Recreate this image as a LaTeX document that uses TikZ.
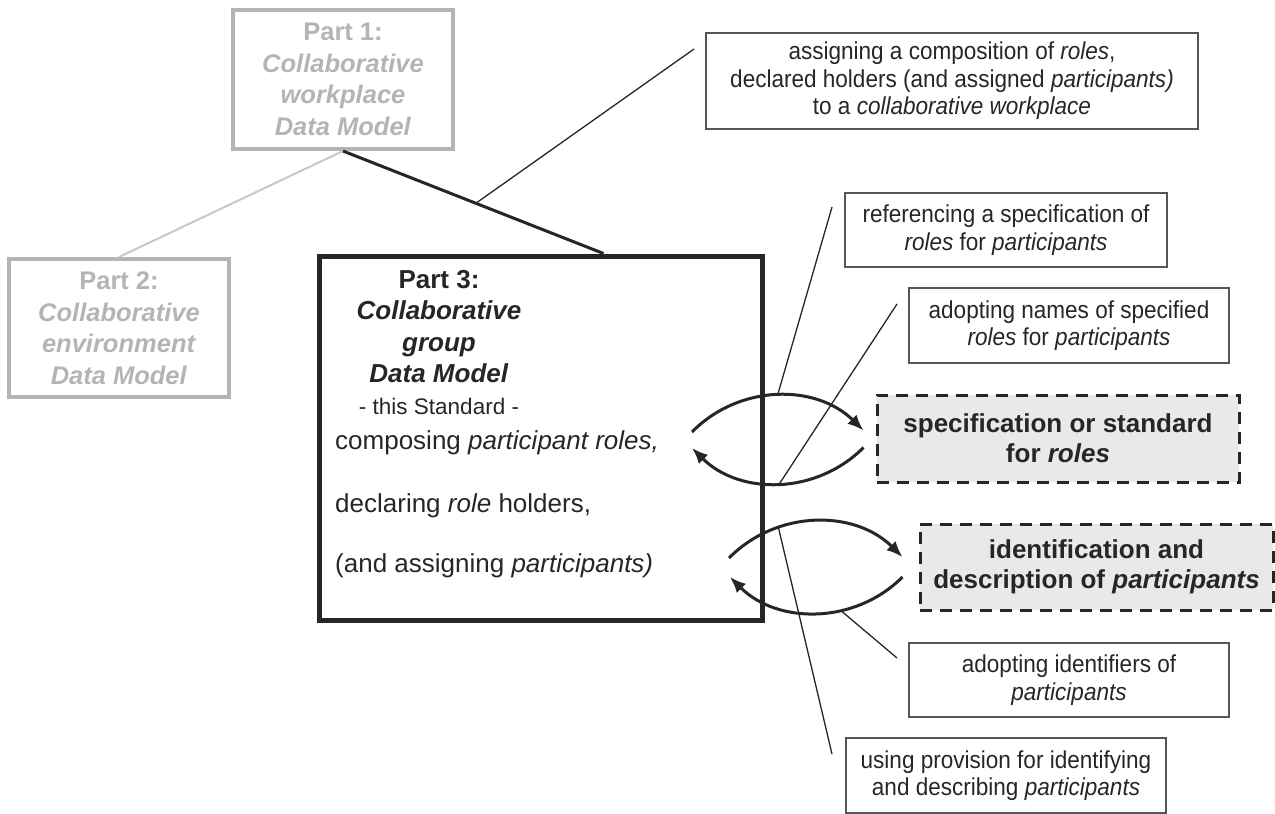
\documentclass[tikz,border=0pt]{standalone}
\usepackage{fontspec}
\setmainfont{Liberation Sans}
\newfontfamily\narrowsans[FakeStretch=0.92]{Liberation Sans}
\usetikzlibrary{arrows.meta}

\definecolor{inkgrey}{HTML}{262626}
\definecolor{boxgrey}{HTML}{555555}
\definecolor{fadegrey}{HTML}{B4B4B4}
\definecolor{fadeline}{HTML}{C8C8C8}
\definecolor{shade}{HTML}{E9E9E9}

\tikzset{
  oldpart/.style={draw=fadegrey, line width=4pt, text=fadegrey, align=center, inner sep=0pt,
    font=\fontsize{25.5}{31.5}\selectfont\bfseries, minimum width=220pt, minimum height=139pt},
  notebox/.style={draw=boxgrey, line width=2pt, text=inkgrey, align=center, inner sep=0pt,
    font=\narrowsans\fontsize{24.5}{27.5}\selectfont, minimum height=75pt},
  sourcebox/.style={draw=inkgrey, line width=3pt, dash pattern=on 12pt off 8pt, fill=shade,
    text=inkgrey, align=center, inner sep=0pt, font=\fontsize{26}{30}\selectfont\bfseries},
  bodyline/.style={text=inkgrey, inner sep=0pt, anchor=base west, font=\fontsize{26}{31}\selectfont},
  swing/.style={draw=inkgrey, line width=3pt, -{Latex[length=16pt,width=13pt]}},
  leader/.style={draw=inkgrey, line width=1.3pt}
}

\begin{document}
\begin{tikzpicture}[x=1pt,y=-1pt]
\useasboundingbox (0,0) rectangle (1275,814);

% the three parts of the standard
\node[oldpart] (p1) at (343,79.5) {Part 1:\\\textit{Collaborative}\\\textit{workplace}\\\textit{Data Model}};
\node[oldpart, minimum height=138pt] (p2) at (119,328) {Part 2:\\\textit{Collaborative}\\\textit{environment}\\\textit{Data Model}};
\node[draw=inkgrey, line width=5pt, minimum width=443pt, minimum height=364pt] (p3) at (540.5,438) {};
\node[anchor=north, align=center, text=inkgrey, inner sep=0pt, font=\fontsize{26}{31.5}\selectfont\bfseries] (p3title) at (439,270)
  {Part 3:\\\textit{Collaborative}\\\textit{group}\\\textit{Data Model}\\{\mdseries\fontsize{22.5}{29}\selectfont - this Standard -}};
\node[bodyline] (compose) at (335,449) {composing \textit{participant roles,}};
\node[bodyline] (declare) at (335,512) {declaring \textit{role} holders,};
\node[bodyline] (assignp) at (335,572) {(and assigning \textit{participants)}};

% notes and sources on the right
\node[notebox, minimum width=492pt, minimum height=96pt] (assign) at (952,81)
  {assigning a composition of \textit{roles},\\declared holders (and assigned \textit{participants)}\\to a \textit{collaborative workplace}};
\node[notebox, minimum width=322pt, minimum height=74pt] (ref) at (1006,230) {referencing a specification of\\\textit{roles} for \textit{participants}};
\node[notebox, minimum width=320pt] (adoptn) at (1069,325.5) {adopting names of specified\\\textit{roles} for \textit{participants}};
\node[sourcebox, minimum width=362pt, minimum height=87pt] (spec) at (1058,438.5) {specification or standard\\for \textit{roles}};
\node[sourcebox, minimum width=353pt, minimum height=86pt] (ident) at (1096.5,567) {identification and\\description of \textit{participants}};
\node[notebox, minimum width=320pt, minimum height=74pt] (adoptid) at (1069,680) {adopting identifiers of\\\textit{participants}};
\node[notebox, minimum width=320pt] (using) at (1006,775.5) {using provision for identifying\\and describing \textit{participants}};

% links between the parts
\draw[fadeline, line width=2pt] (p1.south) -- (p2.north);
\draw[inkgrey, line width=3pt] (p1.south) -- coordinate[pos=0.51] (knot) ([xshift=63pt]p3.north);
\draw[leader] (knot) -- ([shift={(-11,17)}]assign.north west);

% free ends of the swings, inside part 3
\coordinate (c1) at (692,432);
\coordinate (c2) at (692,448);
\coordinate (c3) at (729,558);
\coordinate (c4) at (730,577);
\draw[swing] (c1) to[bend left=45] coordinate[pos=0.5] (hookA) ([shift={(-12,-8)}]spec.west);
\draw[swing] ([shift={(-12,9)}]spec.west) to[bend left=45] coordinate[pos=0.49] (hookB) (c2);
\draw[swing] (c3) to[bend left=45] coordinate[pos=0.3] (hookC) ([shift={(-16,-10)}]ident.west);
\draw[swing] ([shift={(-16,10)}]ident.west) to[bend left=45] coordinate[pos=0.37] (hookD) (c4);

% leaders from the notes
\draw[leader] ([shift={(-12,15)}]ref.north west) -- (hookA);
\draw[leader] ([shift={(-11,17)}]adoptn.north west) -- (hookB);
\draw[leader] ([shift={(-13,17)}]using.north west) -- (hookC);
\draw[leader] ([shift={(-11,16)}]adoptid.north west) -- (hookD);

\end{tikzpicture}
\end{document}
